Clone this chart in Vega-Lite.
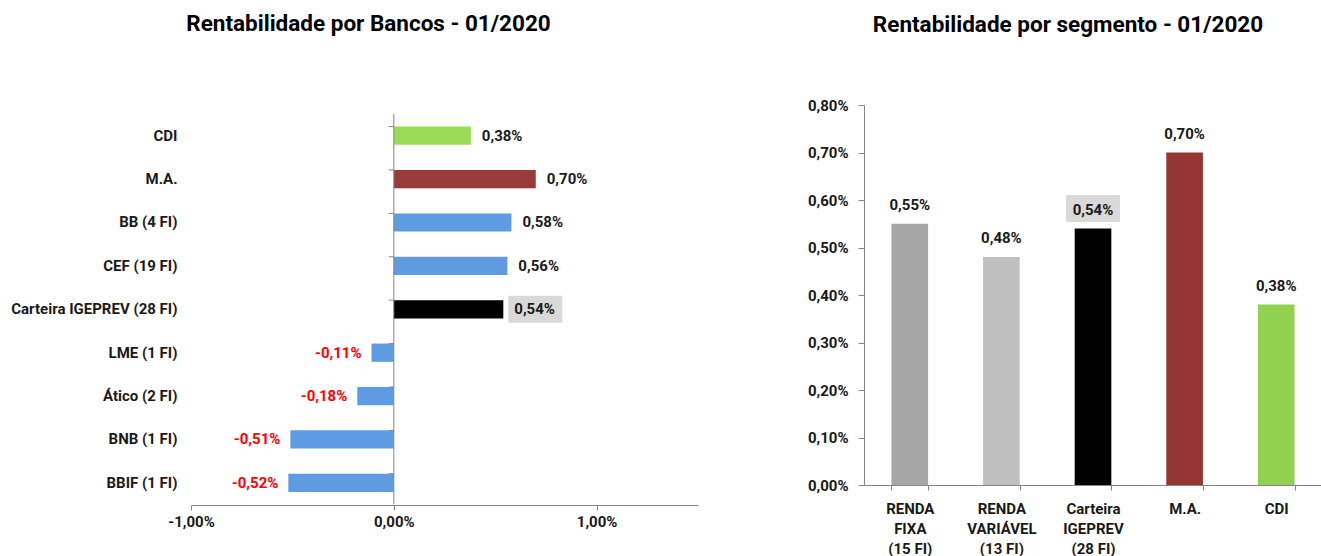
{
  "$schema": "https://vega.github.io/schema/vega-lite/v6.json",
  "background": "white",
  "padding": {"left": 10, "top": 12, "right": 0, "bottom": 0},
  "spacing": 109,
  "resolve": {"scale": {"color": "independent"}},
  "config": {
    "font": "Roboto",
    "view": {"stroke": null},
    "locale": {"number": {"decimal": ",", "thousands": ".", "grouping": [3], "currency": ["R$", ""], "minus": "-"}},
    "axis": {"labelFont": "Roboto", "labelFontWeight": "bold", "labelFontSize": 15, "labelColor": "#1a1a1a", "domainColor": "#868686", "tickColor": "#868686", "grid": false, "title": null}
  },
  "datasets": {
    "bancos": [
      {"banco": "CDI", "valor": 0.0038},
      {"banco": "M.A.", "valor": 0.0070},
      {"banco": "BB (4 FI)", "valor": 0.0058},
      {"banco": "CEF (19 FI)", "valor": 0.0056},
      {"banco": "Carteira IGEPREV (28 FI)", "valor": 0.0054},
      {"banco": "LME (1 FI)", "valor": -0.0011},
      {"banco": "Ático (2 FI)", "valor": -0.0018},
      {"banco": "BNB (1 FI)", "valor": -0.0051},
      {"banco": "BBIF (1 FI)", "valor": -0.0052}
    ],
    "segmentos": [
      {"segmento": "RENDA FIXA (15 FI)", "valor": 0.0055},
      {"segmento": "RENDA VARIÁVEL (13 FI)", "valor": 0.0048},
      {"segmento": "Carteira IGEPREV (28 FI)", "valor": 0.0054},
      {"segmento": "M.A.", "valor": 0.0070},
      {"segmento": "CDI", "valor": 0.0038}
    ]
  },
  "hconcat": [
    {
      "title": {"text": "Rentabilidade por Bancos - 01/2020", "font": "Roboto", "fontSize": 22.5, "fontWeight": "bold", "color": "#000000", "dx": -76, "offset": 70},
      "width": 507,
      "height": 400,
      "data": {"name": "bancos"},
      "encoding": {
        "y": {"field": "banco", "type": "nominal", "sort": null,
              "scale": {"paddingInner": 0.58, "paddingOuter": 0.3985, "align": 0.624},
              "axis": {"domain": false, "ticks": false, "labelPadding": 14}},
        "x": {"field": "valor", "type": "quantitative", "scale": {"domain": [-0.01, 0.015], "nice": false, "zero": false},
              "axis": {"values": [-0.01, 0, 0.01], "format": ".2%", "tickSize": 5, "labelPadding": 4, "labelFlush": false}}
      },
      "layer": [
        {
          "mark": {"type": "bar"},
          "encoding": {
            "color": {"field": "banco", "type": "nominal", "legend": null,
                      "scale": {"domain": ["CDI", "M.A.", "BB (4 FI)", "CEF (19 FI)", "Carteira IGEPREV (28 FI)", "LME (1 FI)", "Ático (2 FI)", "BNB (1 FI)", "BBIF (1 FI)"],
                                "range": ["#9BDB57", "#9B3A3A", "#5E9BE2", "#5E9BE2", "#000000", "#5E9BE2", "#5E9BE2", "#5E9BE2", "#5E9BE2"]}}
          }
        },
        {
          "mark": {"type": "tick", "color": "#868686", "thickness": 1, "size": 43.4, "opacity": 1},
          "encoding": {"x": {"datum": 0}}
        },
        {
          "mark": {"type": "rule", "color": "#868686", "strokeWidth": 1},
          "encoding": {
            "y": {"field": "banco", "type": "nominal", "sort": null, "bandPosition": 0},
            "x": {"datum": -0.00025},
            "x2": {"datum": 0}
          }
        },
        {
          "transform": [{"filter": "datum.banco === 'Carteira IGEPREV (28 FI)'"}],
          "mark": {"type": "point", "shape": "M-1,-0.5H1V0.5H-1Z", "size": 2916, "filled": true, "color": "#D9D9D9", "opacity": 1, "xOffset": 32}
        },
        {
          "transform": [{"filter": "datum.valor >= 0"}],
          "mark": {"type": "text", "align": "left", "baseline": "middle", "dx": 11, "fontWeight": "bold", "fontSize": 15, "color": "#1a1a1a"},
          "encoding": {"text": {"field": "valor", "type": "quantitative", "format": ".2%"}}
        },
        {
          "transform": [{"filter": "datum.valor < 0"}],
          "mark": {"type": "text", "align": "right", "baseline": "middle", "dx": -10, "fontWeight": "bold", "fontSize": 15, "color": "#FF0000"},
          "encoding": {"text": {"field": "valor", "type": "quantitative", "format": ".2%"}}
        }
      ]
    },
    {
      "title": {"text": "Rentabilidade por segmento - 01/2020", "font": "Roboto", "fontSize": 22.5, "fontWeight": "bold", "color": "#000000", "dx": -25, "offset": 62},
      "width": 458,
      "height": 380,
      "data": {"name": "segmentos"},
      "encoding": {
        "x": {"field": "segmento", "type": "nominal", "sort": null, "scale": {"paddingInner": 0.6, "paddingOuter": 0.3},
              "axis": {"labelAngle": 0, "tickBand": "extent", "tickSize": 5, "labelPadding": 11, "labelLineHeight": 20,
                       "labelExpr": "datum.label ? split(replace(replace(replace(datum.label, ' (', '|('), 'RENDA ', 'RENDA|'), 'Carteira ', 'Carteira|'), '|') : ''"}},
        "y": {"field": "valor", "type": "quantitative", "scale": {"domain": [0, 0.008], "nice": false},
              "axis": {"values": [0, 0.001, 0.002, 0.003, 0.004, 0.005, 0.006, 0.007, 0.008], "format": ".2%", "tickSize": 6, "labelPadding": 10}}
      },
      "layer": [
        {
          "mark": {"type": "bar"},
          "encoding": {
            "color": {"field": "segmento", "type": "nominal", "legend": null,
                      "scale": {"domain": ["RENDA FIXA (15 FI)", "RENDA VARIÁVEL (13 FI)", "Carteira IGEPREV (28 FI)", "M.A.", "CDI"],
                                "range": ["#A6A6A6", "#BFBFBF", "#000000", "#963634", "#92D050"]}}
          }
        },
        {
          "transform": [{"filter": "datum.segmento === 'Carteira IGEPREV (28 FI)'"}],
          "mark": {"type": "point", "shape": "M-1,-0.5H1V0.5H-1Z", "size": 2916, "filled": true, "color": "#D9D9D9", "opacity": 1, "yOffset": -20}
        },
        {
          "mark": {"type": "text", "baseline": "alphabetic", "dy": -14, "fontWeight": "bold", "fontSize": 15, "color": "#1a1a1a"},
          "encoding": {"text": {"field": "valor", "type": "quantitative", "format": ".2%"}}
        }
      ]
    }
  ]
}
